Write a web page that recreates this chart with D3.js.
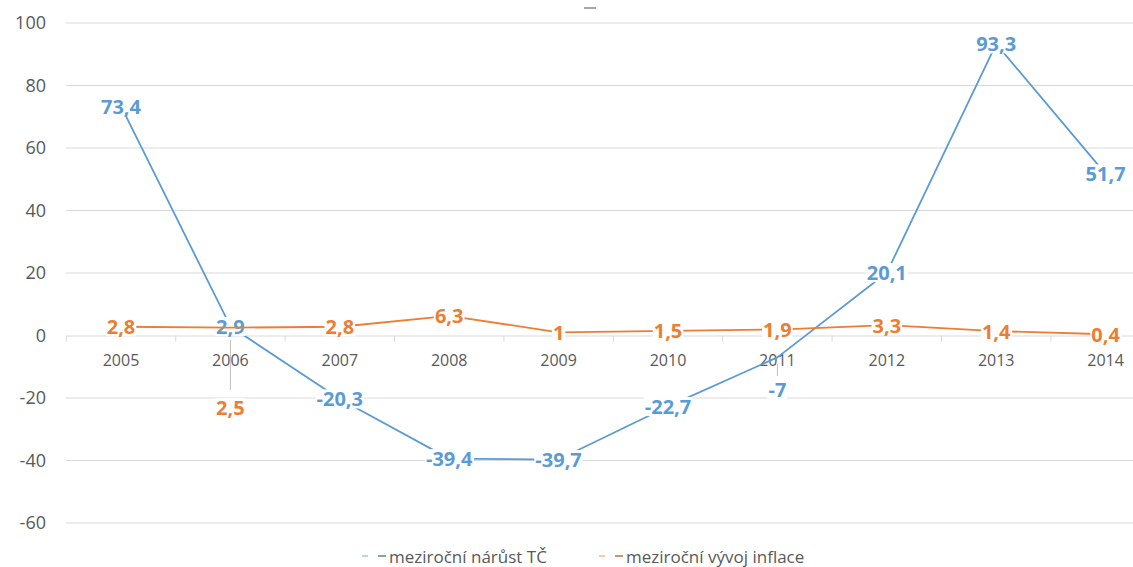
<!DOCTYPE html>
<html>
<head>
<meta charset="utf-8">
<script src="https://cdn.jsdelivr.net/npm/d3@7"></script>
<style>
  html, body { margin: 0; padding: 0; background: #fff; }
  svg { display: block; font-family: "Open Sans", "Noto Sans", sans-serif; }
</style>
</head>
<body>
<svg id="chart" width="1133" height="567"></svg>
<script>
// Years on the category axis
const years = ["2005", "2006", "2007", "2008", "2009", "2010", "2011", "2012", "2013", "2014"];
// Year-on-year growth of TČ (%)
const tcGrowth = [73.4, 2.9, -20.3, -39.4, -39.7, -22.7, -7, 20.1, 93.3, 51.7];
// Year-on-year inflation (%)
const inflation = [2.8, 2.5, 2.8, 6.3, 1, 1.5, 1.9, 3.3, 1.4, 0.4];
// Value axis ticks
const yTicks = [-60, -40, -20, 0, 20, 40, 60, 80, 100];
// Legend entries
const seriesNames = ["meziroční nárůst TČ", "meziroční vývoj inflace"];

const BLUE = "#5b9bd5", ORANGE = "#ed7d31", GRID = "#d9d9d9", TEXT = "#595959";

const svg = d3.select("#chart");

const x = d3.scaleBand().domain(years).range([66.3, 1160.3]).paddingInner(0).paddingOuter(0);
const cx = d => x(d) + x.bandwidth() / 2;
const y = d3.scaleLinear().domain([-60, 100]).range([523, 23]);

// horizontal gridlines
svg.append("g").selectAll("line").data(yTicks.filter(t => t !== 0)).join("line")
  .attr("x1", 66).attr("x2", 1133)
  .attr("y1", d => y(d)).attr("y2", d => y(d))
  .attr("stroke", GRID).attr("stroke-width", 1);

// value axis labels (plain hyphen for negatives)
const yAxis = svg.append("g").attr("transform", "translate(46,0)")
  .call(d3.axisLeft(y).tickValues(yTicks).tickSize(0).tickPadding(0)
    .tickFormat(d => String(d)));
yAxis.select(".domain").remove();
yAxis.selectAll("text").attr("fill", TEXT).style("font-size", "18px")
  .style("font-family", "'Open Sans', sans-serif");

// category axis on the zero line
const xAxis = svg.append("g").attr("transform", `translate(0,${y(0)})`)
  .call(d3.axisBottom(x).tickSize(0).tickPadding(19));
xAxis.select(".domain").attr("stroke", GRID).attr("stroke-width", 1.2);
xAxis.selectAll("text").attr("fill", TEXT).style("font-size", "16px")
  .style("font-family", "'Open Sans', sans-serif");
// boundary tick marks between categories
svg.append("g").selectAll("line").data(years).join("line")
  .attr("x1", d => x(d)).attr("x2", d => x(d))
  .attr("y1", y(0)).attr("y2", y(0) + 6)
  .attr("stroke", GRID).attr("stroke-width", 1);

// small dash above the plot
svg.append("line").attr("x1", 584).attr("x2", 596).attr("y1", 8).attr("y2", 8)
  .attr("stroke", "#a6a6a6").attr("stroke-width", 2);

// labels that were pulled away from their point, with a leader line
const labelShift = {
  tc: { "2011": 32 },
  inf: { "2006": 80 }
};
const leaders = {
  tc: { "2011": [364, 376] },
  inf: { "2006": [340, 390] }
};

const line = d3.line().x((d, i) => cx(years[i])).y(d => y(d));

function drawSeries(key, values, color) {
  svg.append("path").datum(values)
    .attr("d", line)
    .attr("fill", "none").attr("stroke", color).attr("stroke-width", 1.8)
    .attr("stroke-linejoin", "round");

  const g = svg.append("g");
  values.forEach((v, i) => {
    const yr = years[i];
    const shift = (labelShift[key] && labelShift[key][yr]) || 0;
    const lbl = String(v).replace(".", ",");
    const t = g.append("text")
      .attr("x", cx(yr)).attr("y", y(v) + shift)
      .attr("text-anchor", "middle").attr("dominant-baseline", "central")
      .attr("fill", color).style("font-size", "20px").style("font-weight", "700")
      .text(lbl);
    const bb = t.node().getBBox();
    g.insert("rect", () => t.node())
      .attr("x", bb.x - 1).attr("y", bb.y + 4)
      .attr("width", bb.width + 2).attr("height", bb.height - 8)
      .attr("fill", "#fff");
    if (leaders[key] && leaders[key][yr]) {
      const [a, b] = leaders[key][yr];
      g.append("line").attr("x1", cx(yr)).attr("x2", cx(yr)).attr("y1", a).attr("y2", b)
        .attr("stroke", "#bfbfbf").attr("stroke-width", 1);
    }
  });
}

drawSeries("tc", tcGrowth, BLUE);
drawSeries("inf", inflation, ORANGE);

// legend
const legendX = [362, 599];
const legend = svg.append("g");
seriesNames.forEach((name, i) => {
  const c = i === 0 ? BLUE : ORANGE;
  const lx = legendX[i], ly = 556;
  legend.append("line").attr("x1", lx).attr("x2", lx + 6).attr("y1", ly).attr("y2", ly)
    .attr("stroke", c).attr("stroke-opacity", 0.55).attr("stroke-width", 1.5);
  legend.append("line").attr("x1", lx + 16).attr("x2", lx + 24).attr("y1", ly).attr("y2", ly)
    .attr("stroke", d3.color(c).darker(1.2)).attr("stroke-opacity", 0.8).attr("stroke-width", 1.5);
  legend.append("text").attr("x", lx + 27).attr("y", ly)
    .attr("dominant-baseline", "central")
    .attr("fill", TEXT).style("font-size", "17px")
    .text(name);
});
</script>
</body>
</html>
